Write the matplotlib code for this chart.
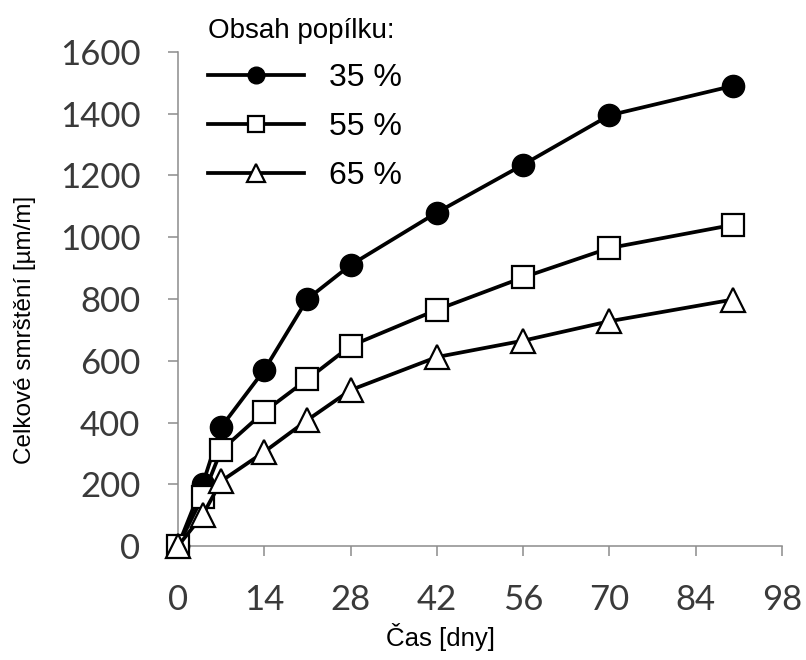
import matplotlib
matplotlib.use("Agg")
import matplotlib.pyplot as plt

# shrinkage over time for three fly-ash contents
days = [0, 4, 7, 14, 21, 28, 42, 56, 70, 90]
shrink_35 = [0, 200, 385, 570, 800, 910, 1080, 1235, 1395, 1490]
shrink_55 = [0, 160, 310, 435, 540, 648, 765, 870, 965, 1040]
shrink_65 = [0, 100, 210, 305, 408, 505, 612, 665, 728, 798]
series_labels = ["35 %", "55 %", "65 %"]

xticks = [0, 14, 28, 42, 56, 70, 84, 98]
yticks = [0, 200, 400, 600, 800, 1000, 1200, 1400, 1600]

plt.rcParams['font.family'] = ['Liberation Sans', 'DejaVu Sans']

fig = plt.figure(figsize=(8.06, 6.6), dpi=100)
ax = fig.add_axes([178/806, 1-546/660, 604/806, 494/660])

lw = 2.7
ax.plot(days, shrink_35, color='black', lw=lw, marker='o', ms=16,
        mfc='black', mec='black', label=series_labels[0], clip_on=False, zorder=3)
ax.plot(days, shrink_55, color='black', lw=lw, marker='s', ms=15.5,
        mfc='white', mec='black', mew=1.6, label=series_labels[1], clip_on=False, zorder=3)
ax.plot(days, shrink_65, color='black', lw=lw, marker='^', ms=17.5,
        mfc='white', mec='black', mew=1.6, label=series_labels[2], clip_on=False, zorder=3)

ax.set_xlim(0, 98)
ax.set_ylim(0, 1600)
ax.set_xticks(xticks)
ax.set_yticks(yticks)

for side in ['top', 'right']:
    ax.spines[side].set_visible(False)
for side in ['left', 'bottom']:
    ax.spines[side].set_color('#8c8c8c')
    ax.spines[side].set_linewidth(1.1)

ax.tick_params(direction='out', length=7, width=1.1, color='#8c8c8c',
               labelcolor='#3a3a3a', labelsize=25, pad=20)
for lbl in ax.get_xticklabels() + ax.get_yticklabels():
    lbl.set_family(['Lato', 'DejaVu Sans'])

ax.set_xlabel("Čas [dny]", fontsize=18.5)
ax.xaxis.set_label_coords((440-178)/604, (546-623)/494)
ax.xaxis.label.set_va('top')
ax.set_ylabel("Celkové smrštění [µm/m]", fontsize=17.5)
ax.yaxis.set_label_coords((25-178)/604, (546-330)/494)
ax.yaxis.label.set_va('center')

leg = ax.legend(loc='upper left', bbox_to_anchor=(208/806, 1-18/660),
                bbox_transform=fig.transFigure, frameon=False,
                title="Obsah popílku:", title_fontsize=20, fontsize=23,
                handlelength=3.0, handletextpad=0.8, labelspacing=0.6,
                borderpad=0, borderaxespad=0, markerscale=0.75,
                alignment='left')

fig.savefig("out.png", dpi=100)
